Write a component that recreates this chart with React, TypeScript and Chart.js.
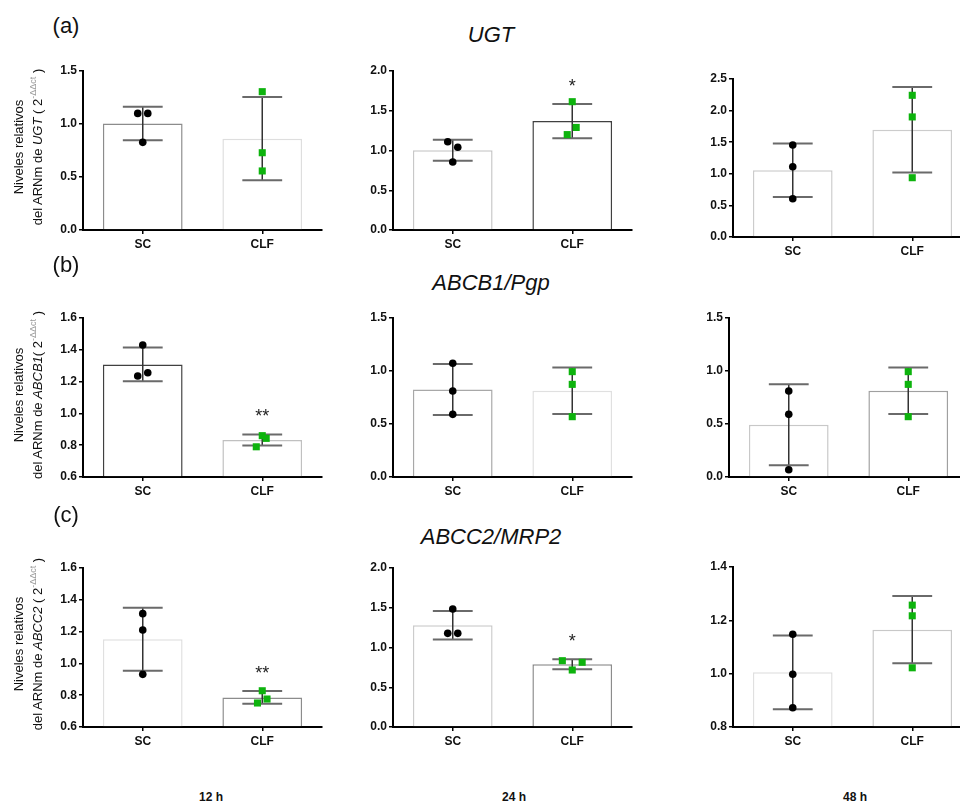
import React, { useEffect, useRef } from 'react';
import { Chart, registerables } from 'chart.js';

Chart.register(...registerables);

// ---------- labels ----------
const categories = ['SC', 'CLF'];
const timeLabels = ['12 h', '24 h', '48 h'];
const rowLetters = ['(a)', '(b)', '(c)'];
const geneTitles = ['UGT', 'ABCB1/Pgp', 'ABCC2/MRP2'];
const geneShort = ['UGT', 'ABCB1', 'ABCC2'];

// ---------- data: UGT ----------
const ugt12Mean = [1.005, 0.862];
const ugt12Sd = [0.158, 0.392];
const ugt12Sc = [1.1, 1.1, 0.827];
const ugt12Clf = [1.305, 0.729, 0.557];
const ugt12Axis = [0, 1.5, 0.5];
const ugt12Stars = ['', ''];

const ugt24Mean = [1.003, 1.37];
const ugt24Sd = [0.132, 0.215];
const ugt24Sc = [1.11, 1.04, 0.855];
const ugt24Clf = [1.614, 1.29, 1.2];
const ugt24Axis = [0, 2.0, 0.5];
const ugt24Stars = ['', '*'];

const ugt48Mean = [1.056, 1.697];
const ugt48Sd = [0.425, 0.678];
const ugt48Sc = [1.456, 1.112, 0.606];
const ugt48Clf = [2.242, 1.9, 0.938];
const ugt48Axis = [0, 2.5, 0.5];
const ugt48Stars = ['', ''];

// ---------- data: ABCB1/Pgp ----------
const abcb1_12Mean = [1.308, 0.833];
const abcb1_12Sd = [0.106, 0.035];
const abcb1_12Sc = [1.43, 1.235, 1.256];
const abcb1_12Clf = [0.86, 0.843, 0.79];
const abcb1_12Axis = [0.6, 1.6, 0.2];
const abcb1_12Stars = ['', '**'];

const abcb1_24Mean = [0.826, 0.814];
const abcb1_24Sd = [0.24, 0.22];
const abcb1_24Sc = [1.073, 0.811, 0.591];
const abcb1_24Clf = [0.994, 0.874, 0.569];
const abcb1_24Axis = [0, 1.5, 0.5];
const abcb1_24Stars = ['', ''];

const abcb1_48Mean = [0.492, 0.814];
const abcb1_48Sd = [0.382, 0.22];
const abcb1_48Sc = [0.811, 0.591, 0.069];
const abcb1_48Clf = [0.994, 0.874, 0.569];
const abcb1_48Axis = [0, 1.5, 0.5];
const abcb1_48Stars = ['', ''];

// ---------- data: ABCC2/MRP2 ----------
const abcc2_12Mean = [1.152, 0.786];
const abcc2_12Sd = [0.198, 0.04];
const abcc2_12Sc = [1.313, 1.21, 0.931];
const abcc2_12Clf = [0.828, 0.776, 0.751];
const abcc2_12Axis = [0.6, 1.6, 0.2];
const abcc2_12Stars = ['', '**'];

const abcc2_24Mean = [1.28, 0.789];
const abcc2_24Sd = [0.18, 0.063];
const abcc2_24Sc = [1.484, 1.178, 1.178];
const abcc2_24Clf = [0.834, 0.814, 0.717];
const abcc2_24Axis = [0, 2.0, 0.5];
const abcc2_24Stars = ['', '*'];

const abcc2_48Mean = [1.005, 1.165];
const abcc2_48Sd = [0.138, 0.126];
const abcc2_48Sc = [1.148, 0.998, 0.872];
const abcc2_48Clf = [1.257, 1.217, 1.022];
const abcc2_48Axis = [0.8, 1.4, 0.2];
const abcc2_48Stars = ['', ''];

// ---------- point jitter (fraction of category spacing) ----------
const J0 = [0, 0, 0];
const jitUgt12 = [[-0.042, 0.042, 0], J0];
const jitUgt24 = [[-0.042, 0.042, 0], [0, 0.033, -0.042]];
const jitAbcb1_12 = [[0, -0.042, 0.042], [0, 0.033, -0.05]];
const jitAbcc2_12 = [J0, [0, 0.04, -0.04]];
const jitAbcc2_24 = [[0, -0.042, 0.042], [-0.083, 0.083, 0]];

const GREEN = '#0db30d';
const FONT = '"Liberation Sans", Arial, Helvetica, sans-serif';

type PanelCfg = {
  mean: number[]; sd: number[]; sc: number[]; clf: number[];
  axis: number[]; stars: string[]; jit: number[][];
  colors: string[]; left: number; top: number; bottom: number;
};

const panels: PanelCfg[] = [
  { mean: ugt12Mean, sd: ugt12Sd, sc: ugt12Sc, clf: ugt12Clf, axis: ugt12Axis, stars: ugt12Stars, jit: jitUgt12, colors: ['#8c8c8c', '#dedede'], left: 83, top: 71, bottom: 230 },
  { mean: ugt24Mean, sd: ugt24Sd, sc: ugt24Sc, clf: ugt24Clf, axis: ugt24Axis, stars: ugt24Stars, jit: jitUgt24, colors: ['#c8c8c8', '#404040'], left: 393, top: 71, bottom: 230 },
  { mean: ugt48Mean, sd: ugt48Sd, sc: ugt48Sc, clf: ugt48Clf, axis: ugt48Axis, stars: ugt48Stars, jit: [J0, J0], colors: ['#cccccc', '#cccccc'], left: 733, top: 79, bottom: 237 },
  { mean: abcb1_12Mean, sd: abcb1_12Sd, sc: abcb1_12Sc, clf: abcb1_12Clf, axis: abcb1_12Axis, stars: abcb1_12Stars, jit: jitAbcb1_12, colors: ['#404040', '#c0c0c0'], left: 83, top: 318, bottom: 477 },
  { mean: abcb1_24Mean, sd: abcb1_24Sd, sc: abcb1_24Sc, clf: abcb1_24Clf, axis: abcb1_24Axis, stars: abcb1_24Stars, jit: [J0, J0], colors: ['#a8a8a8', '#e0e0e0'], left: 393, top: 318, bottom: 477 },
  { mean: abcb1_48Mean, sd: abcb1_48Sd, sc: abcb1_48Sc, clf: abcb1_48Clf, axis: abcb1_48Axis, stars: abcb1_48Stars, jit: [J0, J0], colors: ['#c8c8c8', '#a0a0a0'], left: 729, top: 318, bottom: 477 },
  { mean: abcc2_12Mean, sd: abcc2_12Sd, sc: abcc2_12Sc, clf: abcc2_12Clf, axis: abcc2_12Axis, stars: abcc2_12Stars, jit: jitAbcc2_12, colors: ['#e0e0e0', '#8c8c8c'], left: 83, top: 568, bottom: 727 },
  { mean: abcc2_24Mean, sd: abcc2_24Sd, sc: abcc2_24Sc, clf: abcc2_24Clf, axis: abcc2_24Axis, stars: abcc2_24Stars, jit: jitAbcc2_24, colors: ['#cccccc', '#8c8c8c'], left: 393, top: 568, bottom: 727 },
  { mean: abcc2_48Mean, sd: abcc2_48Sd, sc: abcc2_48Sc, clf: abcc2_48Clf, axis: abcc2_48Axis, stars: abcc2_48Stars, jit: [J0, J0], colors: ['#e0e0e0', '#c8c8c8'], left: 733, top: 567, bottom: 727 },
];

const PAD_L = 50;
const PAD_T = 14;
const PAD_R = 4;
const X_H = 30;
const PLOT_W = 240;

function Panel({ cfg }: { cfg: PanelCfg }) {
  const ref = useRef<HTMLCanvasElement | null>(null);
  const h = cfg.bottom - cfg.top + PAD_T + X_H;
  const w = PAD_L + PLOT_W + PAD_R;

  useEffect(() => {
    if (!ref.current) return;
    const [ymin, ymax, step] = cfg.axis;
    const errPlugin = {
      id: 'errbars',
      afterDatasetDraw(chart: any, args: any) {
        if (args.index !== 0) return;
        const ctx = chart.ctx;
        const xs = chart.scales.x;
        const ys = chart.scales.y;
        const half = xs.width / categories.length / 6;
        ctx.save();
        cfg.mean.forEach((m, i) => {
          const x = xs.getPixelForValue(i);
          const yt = ys.getPixelForValue(m + cfg.sd[i]);
          const yb = ys.getPixelForValue(Math.max(m - cfg.sd[i], ymin));
          ctx.strokeStyle = '#333';
          ctx.lineWidth = 1.5;
          ctx.beginPath();
          ctx.moveTo(x, yt);
          ctx.lineTo(x, yb);
          ctx.stroke();
          ctx.strokeStyle = '#6a6a6a';
          ctx.lineWidth = 2;
          ctx.beginPath();
          ctx.moveTo(x - half, yt);
          ctx.lineTo(x + half, yt);
          ctx.moveTo(x - half, yb);
          ctx.lineTo(x + half, yb);
          ctx.stroke();
        });
        ctx.restore();
      },
      afterDatasetsDraw(chart: any) {
        const ctx = chart.ctx;
        const xs = chart.scales.x;
        const ys = chart.scales.y;
        ctx.save();
        ctx.fillStyle = '#222';
        ctx.font = `18px ${FONT}`;
        ctx.textAlign = 'center';
        ctx.textBaseline = 'alphabetic';
        cfg.stars.forEach((s, i) => {
          if (!s) return;
          const x = xs.getPixelForValue(i);
          const yt = ys.getPixelForValue(cfg.mean[i] + cfg.sd[i]);
          ctx.fillText(s, x, yt - 12);
        });
        ctx.restore();
      },
    };

    const chart = new Chart(ref.current, {
      type: 'bar',
      data: {
        labels: categories,
        datasets: [
          {
            type: 'bar',
            data: cfg.mean,
            backgroundColor: '#ffffff',
            borderColor: cfg.colors,
            borderWidth: 1.5,
            barPercentage: 0.667,
            categoryPercentage: 1,
            grouped: false,
            base: ymin,
            order: 2,
            xAxisID: 'x',
            yAxisID: 'y',
          } as any,
          {
            type: 'scatter',
            data: cfg.sc.map((v, i) => ({ x: 0 + cfg.jit[0][i], y: v })),
            pointStyle: 'circle',
            pointRadius: 3.8,
            backgroundColor: '#000',
            borderColor: '#000',
            borderWidth: 0,
            xAxisID: 'xj',
            yAxisID: 'y',
            order: 1,
          } as any,
          {
            type: 'scatter',
            data: cfg.clf.map((v, i) => ({ x: 1 + cfg.jit[1][i], y: v })),
            pointStyle: 'rect',
            pointRadius: 5,
            backgroundColor: GREEN,
            borderColor: GREEN,
            borderWidth: 0,
            xAxisID: 'xj',
            yAxisID: 'y',
            order: 0,
          } as any,
        ],
      },
      options: {
        animation: false,
        responsive: false,
        events: [],
        layout: { padding: { top: PAD_T, right: PAD_R, left: 0, bottom: 0 } },
        plugins: {
          legend: { display: false },
          tooltip: { enabled: false },
        },
        scales: {
          x: {
            type: 'category',
            offset: true,
            grid: {
              display: true,
              drawOnChartArea: false,
              offset: false,
              color: '#000',
              lineWidth: 1.5,
              tickLength: 4,
            },
            border: { display: true, color: '#000', width: 2 },
            ticks: {
              color: '#111',
              padding: 3,
              font: { family: FONT, size: 12, weight: 'bold' },
            },
            afterFit: (s: any) => { s.height = X_H; },
          },
          xj: { type: 'linear', min: -0.5, max: 1.5, offset: false, display: false },
          y: {
            type: 'linear',
            min: ymin,
            max: ymax,
            ticks: {
              stepSize: step,
              color: '#111',
              padding: 2,
              font: { family: FONT, size: 12, weight: 'bold' },
              callback: (v: any) => Number(v).toFixed(1),
            },
            grid: {
              display: true,
              drawOnChartArea: false,
              color: '#000',
              lineWidth: 1.5,
              tickLength: 4,
            },
            border: { display: true, color: '#000', width: 2 },
            afterFit: (s: any) => { s.width = PAD_L; },
          },
        },
      } as any,
      plugins: [errPlugin],
    });
    return () => chart.destroy();
  }, []);

  return (
    <canvas
      ref={ref}
      width={w}
      height={h}
      style={{ position: 'absolute', left: cfg.left - PAD_L, top: cfg.top - PAD_T, width: w, height: h }}
    />
  );
}

const letterY = [26, 265, 515];
const titleY = [35, 283, 537];
const yTitleY = [147, 395, 644];
const timeX = [211, 514, 855];

function YTitle({ row }: { row: number }) {
  const sep = row === 1 ? '' : ' ';
  return (
    <div
      style={{
        position: 'absolute',
        left: 28,
        top: yTitleY[row],
        transform: 'translate(-50%, -50%) rotate(-90deg)',
        whiteSpace: 'nowrap',
        textAlign: 'center',
        fontSize: 13,
        lineHeight: '19px',
        color: '#111',
        fontFamily: FONT,
      }}
    >
      <div>Niveles relativos</div>
      <div>
        del ARNm de <i>{geneShort[row]}</i>{sep}( 2
        <sup style={{ fontSize: 9, color: '#999', verticalAlign: 'top', lineHeight: '10px' }}>-ΔΔct</sup> )
      </div>
    </div>
  );
}

export default function App() {
  return (
    <div
      style={{
        position: 'absolute',
        left: 0,
        top: 0,
        width: 960,
        height: 806,
        overflow: 'hidden',
        background: '#fff',
        fontFamily: FONT,
      }}
    >
      {panels.map((p, i) => (
        <Panel key={i} cfg={p} />
      ))}
      {rowLetters.map((t, i) => (
        <div
          key={'l' + i}
          style={{ position: 'absolute', left: 66, top: letterY[i], transform: 'translate(-50%, -50%)', fontSize: 22, color: '#111', whiteSpace: 'nowrap' }}
        >
          {t}
        </div>
      ))}
      {geneTitles.map((t, i) => (
        <div
          key={'g' + i}
          style={{ position: 'absolute', left: 491, top: titleY[i], transform: 'translate(-50%, -50%)', fontSize: 22, fontStyle: 'italic', color: '#111', whiteSpace: 'nowrap' }}
        >
          {t}
        </div>
      ))}
      {[0, 1, 2].map((r) => (
        <YTitle key={'y' + r} row={r} />
      ))}
      {timeLabels.map((t, i) => (
        <div
          key={'t' + i}
          style={{
            position: 'absolute',
            left: timeX[i],
            top: 797,
            transform: 'translate(-50%, -50%)',
            fontSize: 12,
            fontWeight: 'bold',
            fontFamily: '"Liberation Sans Narrow", "Arial Narrow", ' + FONT,
            color: '#111',
            whiteSpace: 'nowrap',
          }}
        >
          {t}
        </div>
      ))}
    </div>
  );
}
